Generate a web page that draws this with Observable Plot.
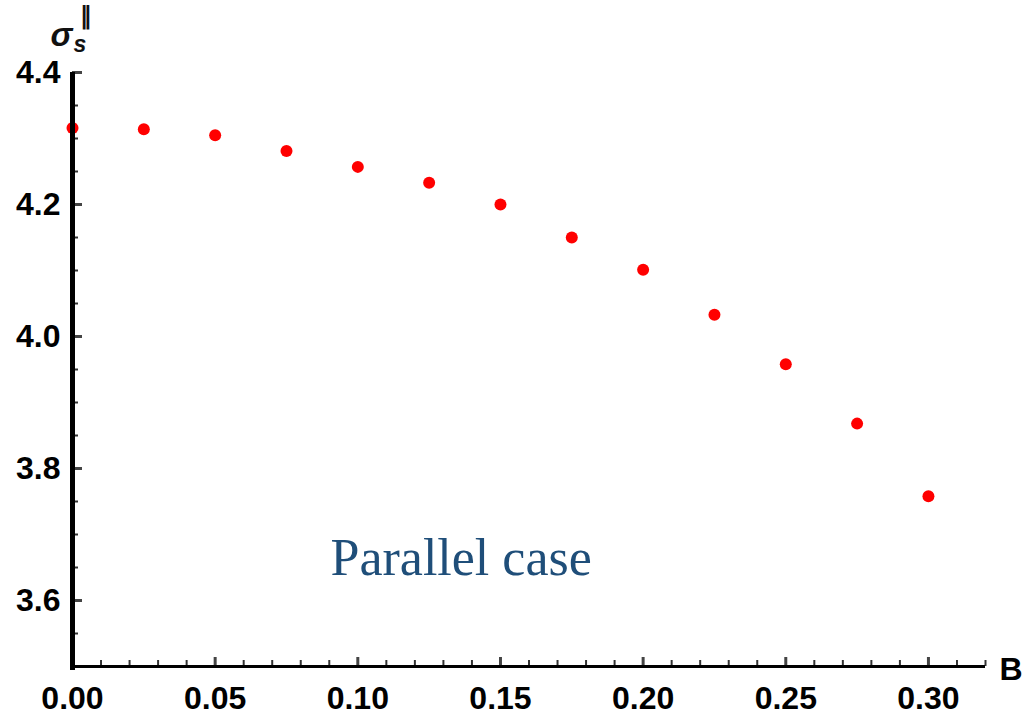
<!DOCTYPE html>
<html>
<head>
<meta charset="utf-8">
<script src="https://cdn.jsdelivr.net/npm/d3@7"></script>
<script src="https://cdn.jsdelivr.net/npm/@observablehq/plot@0.6"></script>
<style>
  html, body { margin: 0; padding: 0; background: #fff; }
  #chart svg { display: block; }
</style>
</head>
<body>
<div id="chart"></div>
<script>
const bValues = [0, 0.025, 0.05, 0.075, 0.1, 0.125, 0.15, 0.175, 0.2, 0.225, 0.25, 0.275, 0.3];
const sigmaValues = [4.316, 4.314, 4.305, 4.281, 4.257, 4.233, 4.200, 4.150, 4.101, 4.033, 3.958, 3.868, 3.758];
const xMajorTicks = [0, 0.05, 0.1, 0.15, 0.2, 0.25, 0.3];
const xMinorTicks = d3.range(0, 33).map(i => i / 100);
const yMajorTicks = [3.6, 3.8, 4.0, 4.2, 4.4];
const yMinorTicks = d3.range(0, 19).map(i => +(3.5 + i * 0.05).toFixed(2));
const annotation = ["Parallel case"];

const W = 1030, H = 721;
const mL = 72, mR = 45, mT = 72, mB = 55;
const innerW = W - mL - mR, innerH = H - mT - mB;
const font = "Liberation Sans, Arial, sans-serif";

const data = bValues.map((b, i) => ({b, s: sigmaValues[i]}));

const chart = Plot.plot({
  width: W,
  height: H,
  marginLeft: mL, marginRight: mR, marginTop: mT, marginBottom: mB,
  style: {fontFamily: font, background: "#fff"},
  x: {domain: [0, 0.32], axis: null},
  y: {domain: [3.5, 4.4], axis: null},
  marks: [
    Plot.dot(data, {x: "b", y: "s", r: 6, fill: "#ff0000", stroke: "none"}),
    // minor ticks (inside)
    Plot.ruleX(xMinorTicks.filter(d => !xMajorTicks.some(m => Math.abs(m - d) < 1e-9)), {x: d => d, insetTop: innerH - 6, stroke: "#333", strokeWidth: 2}),
    Plot.ruleX(xMajorTicks, {x: d => d, insetTop: innerH - 9, stroke: "#444", strokeWidth: 3}),
    Plot.ruleY(yMinorTicks.filter(d => !yMajorTicks.some(m => Math.abs(m - d) < 1e-9)), {y: d => d, insetRight: innerW - 6, stroke: "#333", strokeWidth: 2}),
    Plot.ruleY(yMajorTicks, {y: d => d, insetRight: innerW - 10, stroke: "#444", strokeWidth: 3}),
    // axis lines
    Plot.ruleY([3.5], {stroke: "#000", strokeWidth: 3}),
    Plot.ruleX([0], {stroke: "#000", strokeWidth: 5, insetBottom: -4}),
    // tick labels
    Plot.axisX({ticks: xMajorTicks, label: null, tickSize: 0, tickPadding: 20, tickFormat: d3.format(".2f"), fontSize: 32, fontWeight: "bold", fontFamily: font, fill: "#000"}),
    Plot.axisY({ticks: yMajorTicks, label: null, tickSize: 0, tickPadding: 12, tickFormat: d3.format(".1f"), fontSize: 32, fontWeight: "bold", fontFamily: font, fill: "#000"}),
    // axis labels
    Plot.text(["σ"], {frameAnchor: "top-left", dx: -22, dy: -50, text: d => d, textAnchor: "start", fontSize: 33, fontStyle: "italic", fontWeight: "bold", fontFamily: font, fill: "#111"}),
    Plot.text(["s"], {frameAnchor: "top-left", dx: 1, dy: -37, text: d => d, textAnchor: "start", fontSize: 23, fontStyle: "italic", fontWeight: "bold", fontFamily: font, fill: "#111"}),
    Plot.text(["∥"], {frameAnchor: "top-left", dx: 7, dy: -66, text: d => d, textAnchor: "start", fontSize: 24, fontWeight: "bold", fontFamily: font, fill: "#111"}),
    Plot.text(["B"], {frameAnchor: "bottom-right", dx: 14, dy: 13, text: d => d, textAnchor: "start", fontSize: 32, fontWeight: "bold", fontFamily: font, fill: "#000"}),
    Plot.text(annotation, {frameAnchor: "top-left", dx: 330 - mL, dy: 538 - mT, text: d => d, textAnchor: "start", fontSize: 52, fontFamily: "Liberation Serif, Times New Roman, serif", fill: "#1F4E79"})
  ]
});
document.getElementById("chart").appendChild(chart);
</script>
</body>
</html>
